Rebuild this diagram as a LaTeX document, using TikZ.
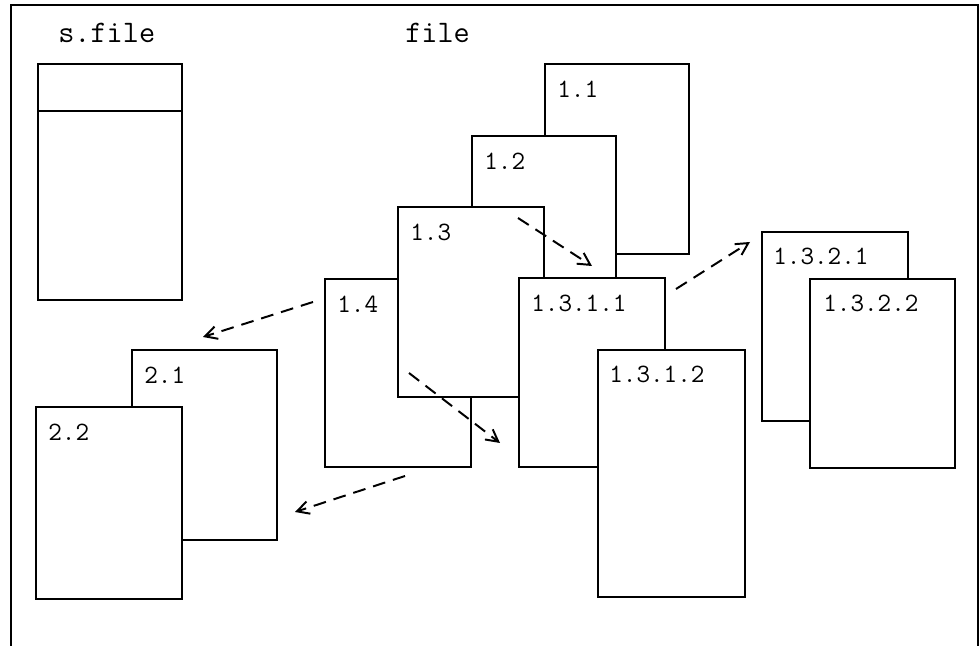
\documentclass[tikz,border=0pt]{standalone}
\usepackage{fontspec}
\usetikzlibrary{arrows.meta,positioning}

\begin{document}
\begin{tikzpicture}[
    >={Straight Barb[length=3mm,width=3.2mm]},
    font=\ttfamily,
    page/.style={
        draw,
        fill=white,
        line width=1.3pt,
        anchor=north west,
        inner sep=0pt,
        minimum width=3.65cm,
        minimum height=4.75cm
    },
    pagelabel/.style={
        font=\ttfamily\fontsize{18.8}{20}\selectfont,
        anchor=base west,
        inner sep=0pt
    },
    header/.style={
        font=\ttfamily\fontsize{22.3}{24}\selectfont,
        anchor=base west,
        inner sep=0pt
    },
    link/.style={
        ->,
        line width=1.4pt,
        dash pattern=on 0.32cm off 0.2cm
    }
]

\useasboundingbox (0,0) rectangle (24.5,-16.15);

% ---------------------------------
% Frame (open at the bottom)
% ---------------------------------
\draw[line width=0.9pt] (0.275,-16.15) |- (24.45,-0.125) -- (24.45,-16.15);

% ---------------------------------
% Headers
% ---------------------------------
\node[header] (hsfile) at (1.45,-1.075) {s.file};
\node[header] (hfile) at (10.125,-1.075) {file};

% ---------------------------------
% s.file
% ---------------------------------
\node[page, minimum width=3.6cm, minimum height=5.9cm] (sfile) at (0.925,-1.575) {};
\draw[line width=1.3pt] ([yshift=-1.2cm]sfile.north west) -- ([yshift=-1.2cm]sfile.north east);

% ---------------------------------
% Left stack
% ---------------------------------
\node[page, minimum width=3.625cm] (b21) at (3.275,-8.725) {};
\node[pagelabel] (t21) at ([shift={(0.325,-0.875)}]b21.north west) {2.1};

\node[page, minimum height=4.8cm] (b22) at (0.875,-10.15) {};
\node[pagelabel] (t22) at ([shift={(0.325,-0.875)}]b22.north west) {2.2};

% ---------------------------------
% Middle stack
% ---------------------------------
\node[page, minimum width=3.6cm] (b11) at (13.6,-1.575) {};
\node[pagelabel] (t11) at ([shift={(0.325,-0.875)}]b11.north west) {1.1};

\node[page, minimum width=3.6cm] (b12) at (11.775,-3.375) {};
\node[pagelabel] (t12) at ([shift={(0.325,-0.875)}]b12.north west) {1.2};

\node[page, minimum height=4.7cm] (b14) at (8.1,-6.95) {};
\node[pagelabel] (t14) at ([shift={(0.325,-0.875)}]b14.north west) {1.4};

\node[page] (b13) at (9.925,-5.15) {};
\node[pagelabel] (t13) at ([shift={(0.325,-0.875)}]b13.north west) {1.3};

\node[page, minimum height=4.725cm] (b1311) at (12.95,-6.925) {};
\node[pagelabel] (t1311) at ([shift={(0.325,-0.875)}]b1311.north west) {1.3.1.1};

\node[page, minimum width=3.675cm, minimum height=6.175cm] (b1312) at (14.925,-8.725) {};
\node[pagelabel] (t1312) at ([shift={(0.3,-0.85)}]b1312.north west) {1.3.1.2};

% ---------------------------------
% Right stack
% ---------------------------------
\node[page, minimum height=4.725cm] (b1321) at (19.025,-5.775) {};
\node[pagelabel] (t1321) at ([shift={(0.3,-0.85)}]b1321.north west) {1.3.2.1};

\node[page, minimum width=3.625cm, minimum height=4.725cm] (b1322) at (20.225,-6.95) {};
\node[pagelabel] (t1322) at ([shift={(0.35,-0.85)}]b1322.north west) {1.3.2.2};

% ---------------------------------
% Links
% ---------------------------------
\coordinate (s1) at (12.95,-5.45);
\coordinate (e1) at (14.8,-6.65);
\coordinate (s2) at (16.9,-7.225);
\coordinate (e2) at (18.75,-6.05);
\coordinate (s3) at (7.825,-7.55);
\coordinate (e3) at (5.075,-8.425);
\coordinate (s4) at (10.125,-11.9);
\coordinate (e4) at (7.375,-12.8);
\coordinate (s5) at (10.225,-9.325);
\coordinate (e5) at (12.5,-11.075);

\draw[link] (s1) -- (e1);
\draw[link] (s2) -- (e2);
\draw[link] (s3) -- (e3);
\draw[link] (s4) -- (e4);
\draw[link] (s5) -- (e5);

\end{tikzpicture}
\end{document}
